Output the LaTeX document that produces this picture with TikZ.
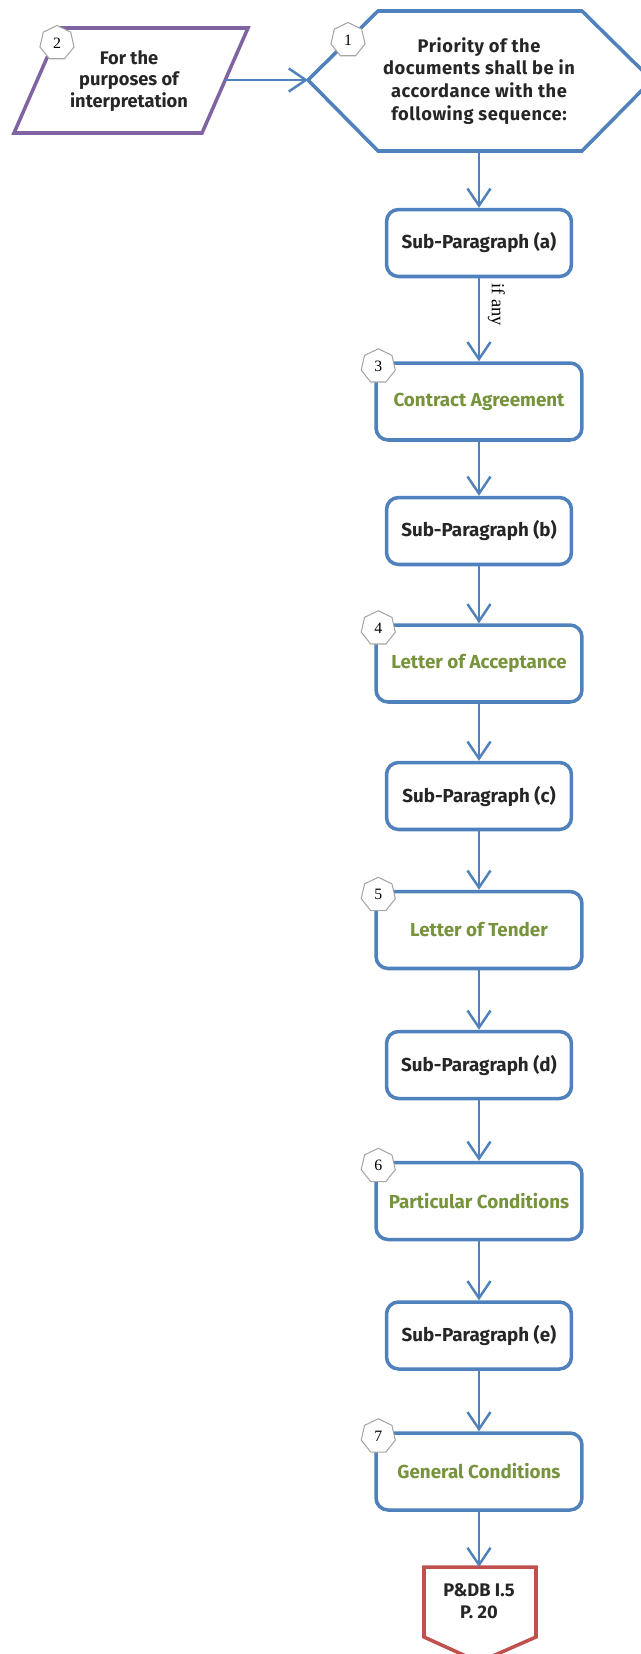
\documentclass[tikz,border=0pt]{standalone}
\usepackage{fontspec}
\setmainfont{Liberation Serif}
\setsansfont{Fira Sans}
\newfontfamily\hexfont[LetterSpace=3]{Fira Sans}
\usetikzlibrary{arrows.meta,shapes.geometric}

\definecolor{lineblue}{HTML}{4F81BD}
\definecolor{parapurple}{HTML}{8064A2}
\definecolor{refred}{HTML}{C0504D}
\definecolor{docgreen}{HTML}{77933C}
\definecolor{textdark}{HTML}{262626}

\begin{document}
\begin{tikzpicture}[
		x=0.02cm, y=-0.02cm,
		conn/.style={-{Straight Barb[length=3.4mm,width=4.6mm]},line width=1.4pt,lineblue},
		subbox/.style={draw=lineblue,line width=2pt,rounded corners=2.4mm,fill=white,
			minimum width=3.7cm,minimum height=1.34cm,inner sep=0pt,
			font=\sffamily\bfseries\fontsize{10.7}{12.6}\selectfont,text=textdark},
		docbox/.style={subbox,minimum width=4.12cm,minimum height=1.54cm,text=docgreen},
		badge/.style={regular polygon,regular polygon sides=7,draw=gray!70,fill=white,
			line width=0.6pt,minimum size=0.7cm,inner sep=0pt,font=\small},
		lab/.style={font=\sffamily\bfseries\fontsize{10.4}{12.4}\selectfont,text=textdark,align=center}
		]
		% ===== Page frame =====
		\useasboundingbox (0,0) rectangle (641,1654);
		% ===== Parallelogram (2) =====
		\coordinate (p1) at (60,28);
		\coordinate (p2) at (248,28);
		\coordinate (p3) at (202,133);
		\coordinate (p4) at (14,133);
		\coordinate (pout) at (225,80);
		\draw[parapurple,line width=2pt] (p1) -- (p2) -- (p3) -- (p4) -- cycle;
		\node[lab] (purp) at (129,81) {For the\\purposes of\\interpretation};
		% ===== Hexagon (1) =====
		\coordinate (h1) at (308,80);
		\coordinate (h2) at (378,11);
		\coordinate (h3) at (582,11);
		\coordinate (h4) at (652,80);
		\coordinate (h5) at (582,151);
		\coordinate (h6) at (378,151);
		\coordinate (hbot) at (479,151);
		\draw[lineblue,line width=2pt,line join=miter] (h1) -- (h2) -- (h3) -- (h4) -- (h5) -- (h6) -- cycle;
		\node[lab,font=\hexfont\bfseries\fontsize{10.4}{13}\selectfont] (prio) at (479,81)
			{Priority of the\\documents shall be in\\accordance with the\\following sequence:};
		% ===== Boxes =====
		\node[subbox] (suba) at (479,243) {Sub-Paragraph (a)};
		\node[docbox] (contr) at (479,401.5) {Contract Agreement};
		\node[subbox] (subb) at (479,531) {Sub-Paragraph (b)};
		\node[docbox] (accept) at (479,663.5) {Letter of Acceptance};
		\node[subbox] (subc) at (479,796) {Sub-Paragraph (c)};
		\node[docbox] (tender) at (479,930) {Letter of Tender};
		\node[subbox] (subd) at (479,1065) {Sub-Paragraph (d)};
		\node[docbox] (partic) at (479,1201) {Particular Conditions};
		\node[subbox] (sube) at (479,1335.5) {Sub-Paragraph (e)};
		\node[docbox] (gencond) at (479,1471.5) {General Conditions};
		% ===== Off-page reference =====
		\coordinate (r1) at (424,1567);
		\coordinate (r2) at (536,1567);
		\coordinate (r3) at (536,1637);
		\coordinate (r4) at (479,1662);
		\coordinate (r5) at (424,1637);
		\draw[refred,line width=2pt,line join=miter] (r1) -- (r2) -- (r3) -- (r4) -- (r5) -- cycle;
		\node[lab] (pdb) at (479,1601) {P\&DB I.5\\P. 20};
		% ===== Connectors =====
		\draw[conn] (pout) -- (h1);
		\draw[conn] (hbot) -- (suba);
		\draw[conn] (suba) -- node[pos=0.32,rotate=-90,anchor=south,yshift=1pt,text=black,font=\fontsize{10.5}{12}\selectfont] (ifany) {if any} (contr);
		\draw[conn] (contr) -- (subb);
		\draw[conn] (subb) -- (accept);
		\draw[conn] (accept) -- (subc);
		\draw[conn] (subc) -- (tender);
		\draw[conn] (tender) -- (subd);
		\draw[conn] (subd) -- (partic);
		\draw[conn] (partic) -- (sube);
		\draw[conn] (sube) -- (gencond);
		\draw[conn] (gencond) -- (r1 -| gencond);
		% ===== Number badges =====
		\node[badge] (b1) at (348,40) {1};
		\node[badge] (b2) at (57,43) {2};
		\node[badge] (b3) at ([shift={(4,5)}]contr.north west) {3};
		\node[badge] (b4) at ([shift={(4,5)}]accept.north west) {4};
		\node[badge] (b5) at ([shift={(4,5)}]tender.north west) {5};
		\node[badge] (b6) at ([shift={(4,5)}]partic.north west) {6};
		\node[badge] (b7) at ([shift={(4,5)}]gencond.north west) {7};
	\end{tikzpicture}
\end{document}
